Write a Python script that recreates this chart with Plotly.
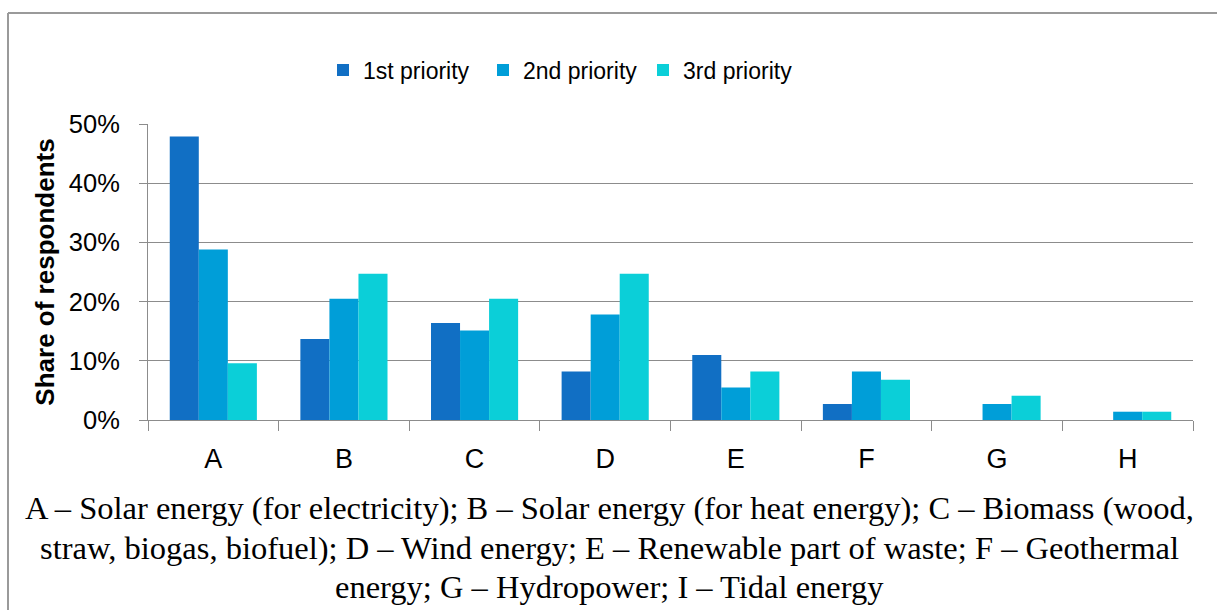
import plotly.graph_objects as go

# Energy source categories (x axis)
categories = ["A", "B", "C", "D", "E", "F", "G", "H"]

# Share of respondents (%) naming each source at each priority level
first_priority = [47.9, 13.7, 16.4, 8.2, 11.0, 2.7, 0.0, 0.0]
second_priority = [28.8, 20.5, 15.1, 17.8, 5.5, 8.2, 2.7, 1.4]
third_priority = [9.6, 24.7, 20.5, 24.7, 8.2, 6.8, 4.1, 1.4]

series_names = ["1st priority", "2nd priority", "3rd priority"]
series_colors = ["#116fc4", "#009ed8", "#0bcfd8"]

y_ticks = [0, 10, 20, 30, 40, 50]
y_tick_labels = ["0%", "10%", "20%", "30%", "40%", "50%"]

caption_lines = [
    "A – Solar energy (for electricity); B – Solar energy (for heat energy); C – Biomass (wood,",
    "straw, biogas, biofuel); D – Wind energy; E – Renewable part of waste; F – Geothermal",
    "energy; G – Hydropower; I – Tidal energy",
]

W, H = 1217, 610
ML, MR, MT, MB = 148, 24, 124, 190
PW, PH = W - ML - MR, H - MT - MB


def px_x(x):
    return (x - ML) / PW


def px_y(y):
    return (H - MB - y) / PH


fig = go.Figure()
for name, vals, col in zip(series_names,
                           [first_priority, second_priority, third_priority],
                           series_colors):
    fig.add_trace(go.Bar(x=categories, y=vals, name=name,
                         marker=dict(color=col, line=dict(width=0))))

axis_gray = "#8c8c8c"
sans = "Liberation Sans, Arial, sans-serif"
serif = "Liberation Serif, Times New Roman, serif"

fig.update_layout(
    width=W, height=H, autosize=False,
    margin=dict(l=ML, r=MR, t=MT, b=MB, pad=0),
    paper_bgcolor="white", plot_bgcolor="white",
    barmode="group", bargap=0.333, bargroupgap=0,
    font=dict(family=sans, color="black"),
    showlegend=True,
    legend=dict(orientation="h", x=px_x(563), xanchor="center",
                y=px_y(70), yanchor="middle", yref="paper",
                font=dict(size=23, family=sans),
                itemwidth=30, entrywidthmode="pixels", entrywidth=115,
                bgcolor="rgba(0,0,0,0)"),
    xaxis=dict(
        type="category", showgrid=False, showline=True, linecolor=axis_gray,
        linewidth=1, ticks="outside", tickson="boundaries", ticklen=10,
        tickcolor=axis_gray, tickfont=dict(size=27, family=sans),
        ticklabelstandoff=15, fixedrange=True,
    ),
    yaxis=dict(
        range=[0, 50], tickvals=y_ticks, ticktext=y_tick_labels,
        showgrid=True, gridcolor=axis_gray, gridwidth=1,
        showline=True, linecolor=axis_gray, linewidth=1,
        ticks="outside", ticklen=8, tickcolor=axis_gray,
        tickfont=dict(size=25.5, family=sans), ticklabelstandoff=14,
        zeroline=False, fixedrange=True,
        title=dict(text="<b>Share of respondents</b>",
                   font=dict(size=26, family=sans), standoff=6),
    ),
)

# Outer frame of the chart
frame = dict(color="#9a9a9a", width=2)
fig.add_shape(type="line", xref="paper", yref="paper",
              x0=px_x(8), x1=px_x(W), y0=px_y(13), y1=px_y(13),
              line=frame, layer="below")
fig.add_shape(type="line", xref="paper", yref="paper",
              x0=px_x(8), x1=px_x(8), y0=px_y(13), y1=px_y(H),
              line=frame, layer="below")

# Category key beneath the axis
for i, line in enumerate(caption_lines):
    fig.add_annotation(text=line, xref="paper", yref="paper",
                       x=px_x(609), y=px_y(508 + i * 39.5),
                       xanchor="center", yanchor="middle", showarrow=False,
                       font=dict(size=32.5, family=serif, color="black"))

fig.write_html("out.html")
